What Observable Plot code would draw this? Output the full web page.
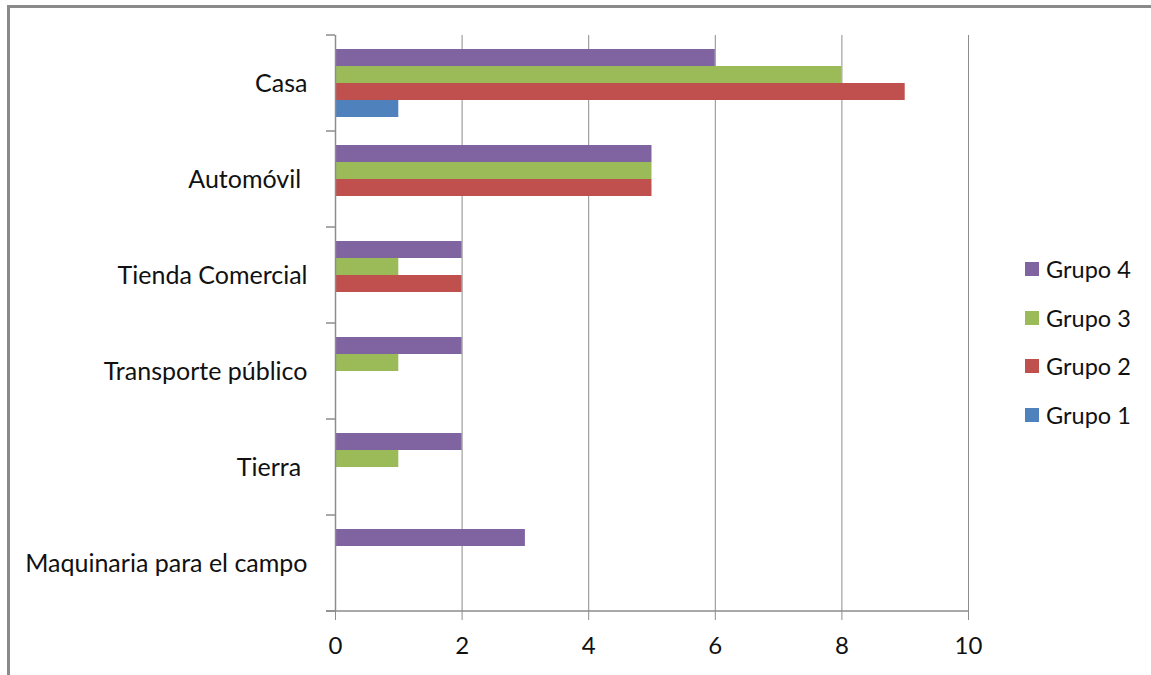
<!DOCTYPE html>
<html><head><meta charset="utf-8">
<script src="https://cdn.jsdelivr.net/npm/d3@7"></script>
<script src="https://cdn.jsdelivr.net/npm/@observablehq/plot@0.6"></script>
<style>
body{margin:0;background:#fff;}
#wrap{position:relative;width:1151px;height:675px;overflow:hidden;font-family:Lato, sans-serif;color:#111;}
#frame{position:absolute;left:7px;top:5px;width:1300px;height:900px;border-left:3px solid #8a8a8a;border-top:3px solid #8a8a8a;}
#chart{position:absolute;left:0;top:0;}
#legend{position:absolute;left:1025px;top:254px;}
.item{height:48.5px;display:flex;align-items:flex-start;font-size:23.5px;line-height:30px;}
.sw{width:14px;height:14px;margin-top:8px;margin-right:7px;}
</style>
</head><body>
<div id="wrap"><div id="frame"></div><div id="chart"></div><div id="legend"></div></div>
<script>
const categories = ["Casa","Automóvil ","Tienda Comercial","Transporte público","Tierra ","Maquinaria para el campo"];
const groups = ["Grupo 4","Grupo 3","Grupo 2","Grupo 1"];
const colors = ["#8064A2","#9BBB59","#C0504D","#4F81BD"];
const grupo1 = [1,0,0,0,0,0];
const grupo2 = [9,5,2,0,0,0];
const grupo3 = [8,5,1,1,1,0];
const grupo4 = [6,5,2,2,2,3];
const xTicks = [0,2,4,6,8,10];

const series = {"Grupo 1":grupo1,"Grupo 2":grupo2,"Grupo 3":grupo3,"Grupo 4":grupo4};
const rows = [];
categories.forEach((c,i)=>groups.forEach(g=>{ if(series[g][i]>0) rows.push({category:c, group:g, value:series[g][i]}); }));

const gridColor = "#8c8c8c";
const plot = Plot.plot({
  width:1151, height:675,
  marginLeft:335, marginRight:183, marginTop:35, marginBottom:64,
  style:{fontFamily:"Lato, sans-serif", fontSize:"24px", color:"#111", whiteSpace:"pre", background:"transparent", overflow:"visible"},
  x:{domain:[0,10]},
  fy:{domain:categories, padding:0, label:null},
  y:{domain:groups, paddingInner:0, paddingOuter:0.74, axis:null},
  color:{domain:groups, range:colors},
  marks:[
    Plot.ruleX(xTicks.slice(1), {stroke:gridColor, strokeWidth:1}),
    Plot.barX(rows, {x:"value", y:"group", fy:"category", fill:"group"}),
    Plot.ruleX([0], {stroke:gridColor, strokeWidth:1.5}),
    Plot.axisX({ticks:xTicks, tickSize:9, tickPadding:16, label:null, anchor:"bottom", stroke:gridColor}),
    Plot.axisFy({anchor:"left", tickSize:0, tickPadding:28, label:null, fontSize:25})
  ]
});
document.getElementById("chart").appendChild(plot);

// band-boundary ticks on the category axis and bottom axis line, from the plot's scales
const sx = plot.scale("x");
const x = d3.scaleLinear().domain(sx.domain).range(sx.range);
const sfy = plot.scale("fy");
const fy = d3.scaleBand().domain(sfy.domain).range(sfy.range).padding(0);
const svg = d3.select(plot);
const g = svg.append("g").attr("stroke", gridColor).attr("stroke-width", 1.5);
const bounds = sfy.domain.map(d=>fy(d)).concat([fy.range()[1]]);
bounds.forEach(b=>g.append("line").attr("x1", x(0)-9).attr("x2", x(0)).attr("y1", b).attr("y2", b));
g.append("line").attr("x1", x(0)-9).attr("x2", x(10)).attr("y1", fy.range()[1]).attr("y2", fy.range()[1]);

const legend = document.getElementById("legend");
groups.forEach((gname,i)=>{
  const it = document.createElement("div"); it.className="item";
  const sw = document.createElement("div"); sw.className="sw"; sw.style.background=colors[i];
  const t = document.createElement("span"); t.textContent=gname;
  it.appendChild(sw); it.appendChild(t); legend.appendChild(it);
});
</script>
</body></html>
